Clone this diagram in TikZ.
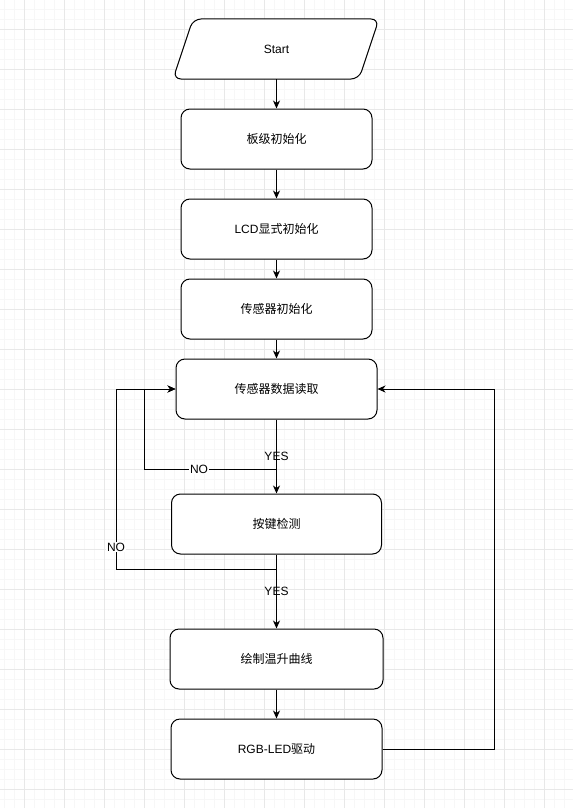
\documentclass[tikz,border=0pt]{standalone}
\usepackage{fontspec}
\setmainfont{Liberation Sans}
\newfontfamily\cjk{Noto Sans CJK SC}
\usetikzlibrary{arrows.meta}
\definecolor{gridminor}{HTML}{F7F7F7}
\definecolor{gridmajor}{HTML}{E8E8E8}
\begin{document}
\begin{tikzpicture}[x=1pt,y=-1pt,
  boxstyle/.style={draw=black,line width=1pt,fill=white,rounded corners=9pt,
    minimum height=60pt,inner sep=0pt,font=\fontsize{12pt}{14pt}\selectfont},
  line/.style={draw=black,line width=1pt},
  arr/.style={line,-{Stealth[length=8pt,width=7pt,inset=2.5pt]}},
  nolabel/.style={fill=white,inner sep=1pt,font=\fontsize{12pt}{14pt}\selectfont},
  yeslabel/.style={inner sep=1pt,font=\fontsize{12pt}{14pt}\selectfont}]
\useasboundingbox (0,0) rectangle (573,808);
\fill[white] (0,0) rectangle (573,808);
% grid
\foreach \gx in {4,14,...,573} {\draw[gridminor,line width=0.8pt] (\gx,0) -- (\gx,808);}
\foreach \gy in {9,19,...,808} {\draw[gridminor,line width=0.8pt] (0,\gy) -- (573,\gy);}
\foreach \gx in {24,64,...,573} {\draw[gridmajor,line width=0.8pt] (\gx,0) -- (\gx,808);}
\foreach \gy in {29,69,...,808} {\draw[gridmajor,line width=0.8pt] (0,\gy) -- (573,\gy);}
% start parallelogram
\draw[line,fill=white,rounded corners=8pt] (193,19) -- (379,19) -- (359,79) -- (173,79) -- cycle;
\node[inner sep=0pt,minimum width=166pt,minimum height=60pt,font=\fontsize{12pt}{14pt}\selectfont] (start) at (276.5,49) {Start};
% boxes
\node[boxstyle,minimum width=191pt] (b1) at (276.5,139) {\cjk 板级初始化};
\node[boxstyle,minimum width=191pt] (b2) at (276.5,229) {LCD{\cjk 显式初始化}};
\node[boxstyle,minimum width=191pt] (b3) at (276.5,309) {\cjk 传感器初始化};
\node[boxstyle,minimum width=201pt] (b4) at (276.5,389) {\cjk 传感器数据读取};
\node[boxstyle,minimum width=210pt] (b5) at (276.5,524) {\cjk 按键检测};
\node[boxstyle,minimum width=213pt] (b6) at (276.5,659) {\cjk 绘制温升曲线};
\node[boxstyle,minimum width=211pt] (b7) at (276.5,749) {RGB-LED{\cjk 驱动}};
% straight connectors
\draw[arr] (start.south) -- (b1.north);
\draw[arr] (b1) -- (b2);
\draw[arr] (b2) -- (b3);
\draw[arr] (b3) -- (b4);
\draw[arr] (b4) -- (b5);
\draw[arr] (b5) -- (b6);
\draw[arr] (b6) -- (b7);
% loops
\coordinate (n1) at (276.5,469);
\coordinate (n1l) at (144,469);
\coordinate (n2) at (276.5,569);
\coordinate (n2l) at (116,569);
\coordinate (rr) at (494,749);
\draw[arr] (n1) -- (n1l) |- (b4.west);
\draw[arr] (n2) -- (n2l) |- (b4.west);
\draw[arr] (b7.east) -- (rr) |- (b4.east);
% labels
\node[nolabel] (no1) at (199,469) {NO};
\node[nolabel] (no2) at (116,547) {NO};
\node[yeslabel] (yes1) at (276.5,456) {YES};
\node[yeslabel] (yes2) at (276.5,591) {YES};
\end{tikzpicture}
\end{document}
